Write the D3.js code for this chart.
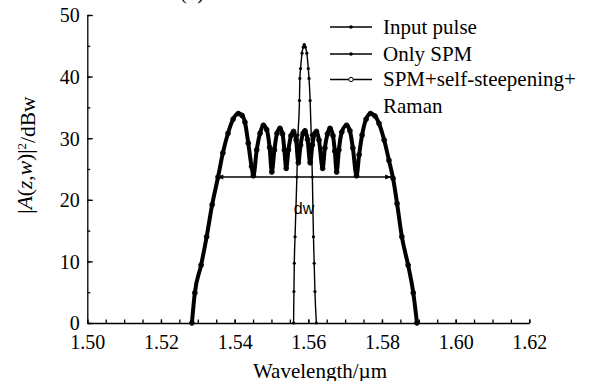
<!DOCTYPE html>
<html>
<head>
<meta charset="utf-8">
<script src="https://cdn.jsdelivr.net/npm/d3@7/dist/d3.min.js"></script>
<style>
  html, body { margin: 0; padding: 0; background: #fff; }
  svg { display: block; }
  text { font-family: "Liberation Serif", "Times New Roman", serif; fill: #000; }
</style>
</head>
<body>
<svg id="chart" width="590" height="381"></svg>
<script>
// ---------- data ----------
const xTickValues = [1.50, 1.52, 1.54, 1.56, 1.58, 1.60, 1.62];
const yTickValues = [0, 10, 20, 30, 40, 50];
const seriesNames = ["Input pulse", "Only SPM", "SPM+self-steepening+", "Raman"];

// Input pulse (wavelength µm, power dB)
const inputWl = [1.5560, 1.5561, 1.5562, 1.5564, 1.5569, 1.5572, 1.5576, 1.5577, 1.5579, 1.5583, 1.5586, 1.5589,
                 1.5592, 1.5596, 1.5600, 1.5602, 1.5605, 1.5608, 1.5611, 1.5614, 1.5616, 1.5618, 1.5622];
const inputDb = [0, 5.1, 9.7, 14.0, 23.7, 30.5, 36.1, 39.7, 41.3, 43.8, 44.8, 45.2,
                 44.8, 43.8, 41.3, 39.7, 36.1, 30.5, 23.7, 14.0, 9.7, 5.1, 0];

// Broadened spectrum (wavelength µm)
const spmWl = [1.5284, 1.5292, 1.5309, 1.5324, 1.5339, 1.5355, 1.5368, 1.5382, 1.5396, 1.5410,
               1.5420, 1.5428, 1.5437, 1.5446, 1.5451, 1.5460, 1.5469, 1.5478, 1.5487, 1.5495,
               1.5501, 1.5508, 1.5515, 1.5523, 1.5530, 1.5535, 1.5540, 1.5546, 1.5553, 1.5560,
               1.5567, 1.5573, 1.5579, 1.5586, 1.5591, 1.5598, 1.5605, 1.5611, 1.5617, 1.5622,
               1.5629, 1.5639, 1.5645, 1.5652, 1.5659, 1.5667, 1.5672, 1.5677, 1.5683, 1.5691,
               1.5704, 1.5713, 1.5721, 1.5731, 1.5738, 1.5746, 1.5757, 1.5769, 1.5781, 1.5792,
               1.5806, 1.5819, 1.5830, 1.5841, 1.5854, 1.5871, 1.5885, 1.5895];
// Only SPM (dB)
const spmOnlyDb = [0, 4.9, 9.4, 14.0, 19.2, 23.7, 27.6, 30.8, 33.1, 34.0,
                   33.7, 32.6, 29.2, 25.4, 23.9, 28.1, 30.8, 32.1, 31.4, 28.5,
                   24.5, 28.1, 30.8, 31.6, 30.7, 28.1, 25.1, 28.1, 30.4, 31.1,
                   29.7, 26.0, 28.9, 30.8, 31.2, 29.8, 26.0, 28.9, 30.7, 31.1,
                   29.7, 25.1, 28.4, 30.7, 31.6, 30.4, 27.9, 24.5, 28.1, 31.0,
                   32.1, 31.2, 28.4, 23.9, 27.3, 30.5, 33.1, 34.0, 33.6, 32.4,
                   29.7, 26.4, 23.5, 19.4, 14.0, 9.4, 4.9, 0];
// SPM + self-steepening + Raman (dB) – indistinguishable from Only SPM in the figure
const spmFullDb = [0, 4.9, 9.4, 14.0, 19.2, 23.7, 27.6, 30.8, 33.1, 34.0,
                   33.7, 32.6, 29.2, 25.4, 23.9, 28.1, 30.8, 32.1, 31.4, 28.5,
                   24.5, 28.1, 30.8, 31.6, 30.7, 28.1, 25.1, 28.1, 30.4, 31.1,
                   29.7, 26.0, 28.9, 30.8, 31.2, 29.8, 26.0, 28.9, 30.7, 31.1,
                   29.7, 25.1, 28.4, 30.7, 31.6, 30.4, 27.9, 24.5, 28.1, 31.0,
                   32.1, 31.2, 28.4, 23.9, 27.3, 30.5, 33.1, 34.0, 33.6, 32.4,
                   29.7, 26.4, 23.5, 19.4, 14.0, 9.4, 4.9, 0];

// dw annotation (bandwidth arrow)
const dwStart = 1.5353, dwEnd = 1.5825, dwLevel = 23.7;

// ---------- chart ----------
const svg = d3.select("#chart");
const x = d3.scaleLinear().domain([1.50, 1.62]).range([87.3, 529.3]);
const y = d3.scaleLinear().domain([0, 50]).range([323, 15]);

// partially visible panel title
svg.append("text").attr("x", 192).attr("y", -1.5).attr("text-anchor", "middle")
  .style("font-size", "21px").text("(b)");

// defs for arrowheads
const defs = svg.append("defs");
defs.append("marker").attr("id", "arrowEnd").attr("viewBox", "0 0 10 10")
  .attr("refX", 10).attr("refY", 5).attr("markerWidth", 7).attr("markerHeight", 6)
  .attr("markerUnits", "userSpaceOnUse").attr("orient", "auto")
  .append("path").attr("d", "M0,1 L10,5 L0,9 Z").attr("fill", "#000");
defs.append("marker").attr("id", "arrowStart").attr("viewBox", "0 0 10 10")
  .attr("refX", 0).attr("refY", 5).attr("markerWidth", 7).attr("markerHeight", 6)
  .attr("markerUnits", "userSpaceOnUse").attr("orient", "auto")
  .append("path").attr("d", "M10,1 L0,5 L10,9 Z").attr("fill", "#000");

// axes
const xMinor = d3.range(0, 25).map(i => 1.50 + i * 0.005);
const yMinor = d3.range(0, 11).map(i => i * 5);

const gx = svg.append("g").attr("transform", `translate(0,${y(0)})`);
gx.call(d3.axisBottom(x).tickValues(xMinor).tickSizeInner(-3.5).tickSizeOuter(0).tickFormat(""));
gx.selectAll("text").remove();
const gx2 = svg.append("g").attr("transform", `translate(0,${y(0)})`);
gx2.call(d3.axisBottom(x).tickValues(xTickValues).tickSizeInner(-3.5).tickSizeOuter(0).tickFormat(d3.format(".2f")));
gx2.select(".domain").remove();
gx2.selectAll("text").attr("y", 26).attr("dy", 0).style("font-size", "20px").style("font-family", "Liberation Serif, serif");

const gy = svg.append("g").attr("transform", `translate(${x(1.50)},0)`);
gy.call(d3.axisLeft(y).tickValues(yMinor).tickSizeInner(-3).tickSizeOuter(0).tickFormat(""));
gy.selectAll("text").remove();
const gy2 = svg.append("g").attr("transform", `translate(${x(1.50)},0)`);
gy2.call(d3.axisLeft(y).tickValues(yTickValues).tickSizeInner(-5.5).tickSizeOuter(0).tickFormat(d3.format("d")));
gy2.select(".domain").remove();
gy2.selectAll("text").attr("x", -7.5).attr("dy", "0.34em").style("font-size", "20px").style("font-family", "Liberation Serif, serif");

svg.selectAll(".domain, .tick line").attr("stroke", "#000").attr("stroke-width", 1.3);

// axis labels
svg.append("text").attr("x", 320).attr("y", 378).attr("text-anchor", "middle")
  .style("font-size", "21px").text("Wavelength/\u00b5m");

const yl = svg.append("text").attr("transform", "translate(31.5,155) rotate(-90)")
  .attr("text-anchor", "middle").style("font-size", "21.5px");
yl.append("tspan").text("|");
yl.append("tspan").style("font-style", "italic").text("A");
yl.append("tspan").text("(");
yl.append("tspan").style("font-style", "italic").text("z");
yl.append("tspan").text(",");
yl.append("tspan").style("font-style", "italic").text("w");
yl.append("tspan").text(")|");
yl.append("tspan").attr("dy", "-0.45em").style("font-size", "13px").text("2");
yl.append("tspan").attr("dy", "0.45em").text("/dBw");

// series
const line = d3.line().x(d => x(d[0])).y(d => y(d[1])).curve(d3.curveMonotoneX);
const inputData = inputWl.map((w, i) => [w, inputDb[i]]);
const spmOnlyData = spmWl.map((w, i) => [w, spmOnlyDb[i]]);
const spmFullData = spmWl.map((w, i) => [w, spmFullDb[i]]);

svg.append("path").datum(spmOnlyData).attr("d", line)
  .attr("fill", "none").attr("stroke", "#000").attr("stroke-width", 4).attr("stroke-linejoin", "round");
svg.append("path").datum(spmFullData).attr("d", line)
  .attr("fill", "none").attr("stroke", "#000").attr("stroke-width", 1.5);
svg.append("g").selectAll("circle").data(spmOnlyData).join("circle")
  .attr("cx", d => x(d[0])).attr("cy", d => y(d[1])).attr("r", 2).attr("fill", "#000");
svg.append("g").selectAll("circle").data(spmFullData).join("circle")
  .attr("cx", d => x(d[0])).attr("cy", d => y(d[1])).attr("r", 2.4)
  .attr("fill", "none").attr("stroke", "#000").attr("stroke-width", 1);

svg.append("path").datum(inputData).attr("d", line)
  .attr("fill", "none").attr("stroke", "#000").attr("stroke-width", 1.4);
svg.append("g").selectAll("circle").data(inputData).join("circle")
  .attr("cx", d => x(d[0])).attr("cy", d => y(d[1])).attr("r", 1.6).attr("fill", "#000");

// dw arrow
svg.append("line").attr("x1", x(dwStart)).attr("x2", x(dwEnd)).attr("y1", y(dwLevel)).attr("y2", y(dwLevel))
  .attr("stroke", "#000").attr("stroke-width", 1.3)
  .attr("marker-start", "url(#arrowStart)").attr("marker-end", "url(#arrowEnd)");
svg.append("text").attr("x", 304).attr("y", 214).attr("text-anchor", "middle")
  .style("font-family", "Liberation Sans, Arial, sans-serif").style("font-size", "16px").text("dw");

// legend
const legRows = [
  {name: seriesNames[0], y: 27, type: "dot"},
  {name: seriesNames[1], y: 54, type: "dot"},
  {name: seriesNames[2], y: 79.5, type: "open"}
];
const leg = svg.append("g");
legRows.forEach(r => {
  leg.append("line").attr("x1", 330).attr("x2", 372).attr("y1", r.y).attr("y2", r.y)
    .attr("stroke", "#000").attr("stroke-width", 1.4);
  if (r.type === "dot") {
    leg.append("circle").attr("cx", 351).attr("cy", r.y).attr("r", 1.8).attr("fill", "#000");
  } else {
    leg.append("circle").attr("cx", 351).attr("cy", r.y).attr("r", 2.2).attr("fill", "#fff")
      .attr("stroke", "#000").attr("stroke-width", 1);
  }
  leg.append("text").attr("x", 383).attr("y", r.y + 6.5).style("font-size", "21px").text(r.name);
});
leg.append("text").attr("x", 383).attr("y", 112.5).style("font-size", "21px").text(seriesNames[3]);
</script>
</body>
</html>
